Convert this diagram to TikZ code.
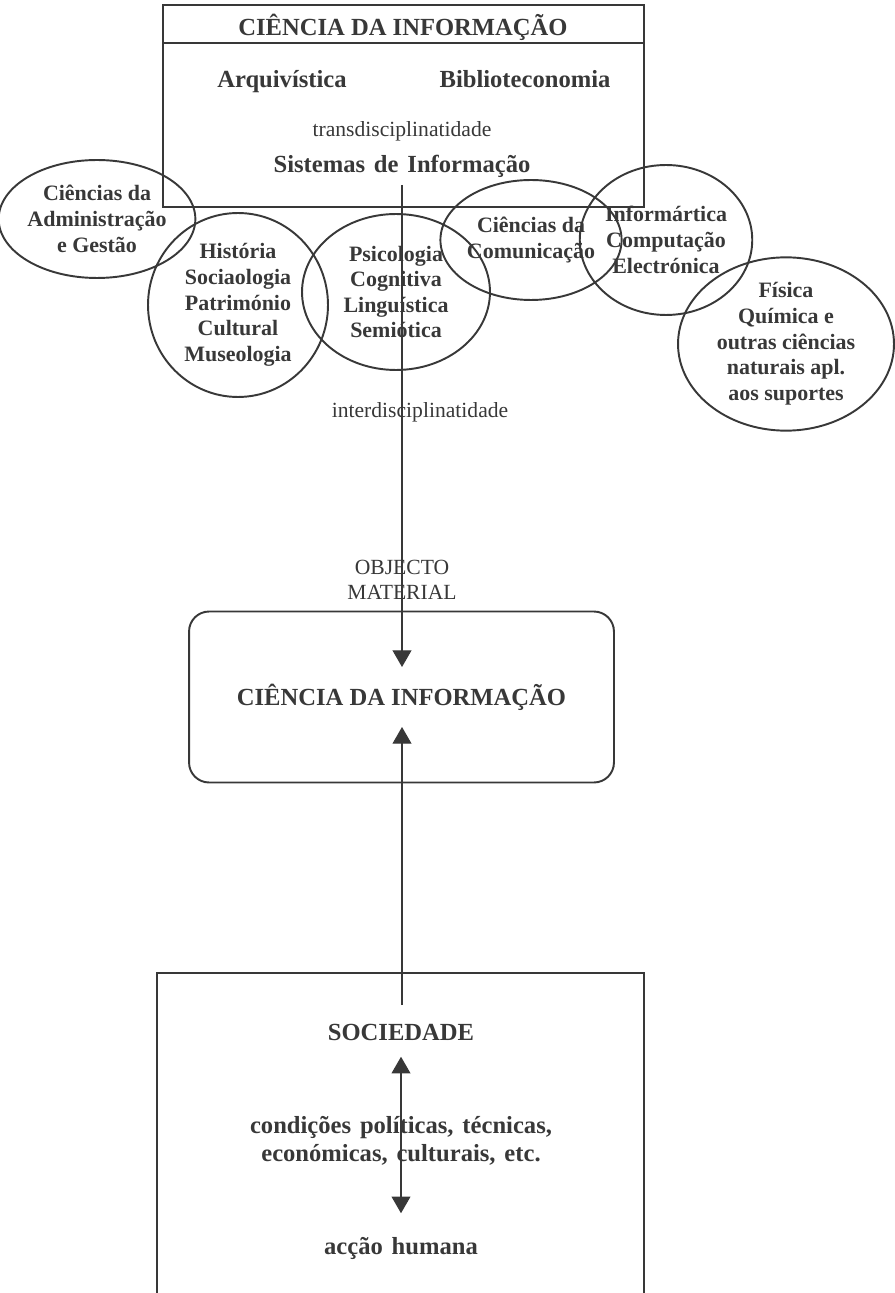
\documentclass[tikz,border=0pt]{standalone}
\usepackage{fontspec}
\setmainfont{Liberation Serif}
\usetikzlibrary{arrows.meta, shapes.geometric, positioning}
\definecolor{ink}{HTML}{383838}
\newcommand\widesp{\spaceskip=0.36em\relax}

\begin{document}
\begin{tikzpicture}[x=0.02cm, y=-0.02cm, line width=1.1pt, color=ink,
    disc/.style={draw, ellipse, inner sep=0pt, align=center,
      font=\bfseries\fontsize{12.5}{14.6}\selectfont},
    headtxt/.style={font=\bfseries\fontsize{14}{16}\selectfont},
    subtxt/.style={font=\bfseries\fontsize{14}{16}\selectfont\widesp, align=center},
    plaintxt/.style={font=\fontsize{12.3}{14}\selectfont, align=center},
    arr/.style={line width=0.6pt, -{Triangle[length=9.5pt, width=10.8pt]}},
    dblarr/.style={line width=0.6pt, {Triangle[length=9.5pt, width=10.8pt]}-{Triangle[length=9.5pt, width=10.8pt]}}]
  \useasboundingbox (0,0) rectangle (894,1293);

  % Top box
  \draw (163,5) rectangle (644,207);
  \draw (163,43) -- (644,43);
  \node[headtxt, anchor=base] (ci1) at (403,36) {CIÊNCIA DA INFORMAÇÃO};
  \node[headtxt, anchor=base] (arq) at (282,88) {Arquivística};
  \node[headtxt, anchor=base] (bib) at (525,88) {Biblioteconomia};
  \node[plaintxt, anchor=base] (trans) at (402,137) {transdisciplinatidade};
  \node[subtxt, anchor=base] (sis) at (402,173) {Sistemas de Informação};

  % Disciplines
  \node[disc, minimum width=3.6cm, minimum height=2.36cm] (adm) at (97,219)
    {Ciências da\\Administração\\e Gestão};
  \node[disc, minimum width=3.6cm, minimum height=3.68cm] (hist) at (238,305)
    {História\\Sociaologia\\Património\\Cultural\\Museologia};
  \node[disc, minimum width=3.76cm, minimum height=3.12cm] (psi) at (396,292)
    {Psicologia\\Cognitiva\\Linguística\\Semiótica};
  \node[disc, minimum width=2.92cm, minimum height=2.4cm] (com) at (531,240)
    {Ciências da\\Comunicação};
  \node[disc, minimum width=3.16cm, minimum height=3.0cm] (inf) at (666,240)
    {Informártica\\Computação\\Electrónica};
  \node[disc, minimum width=4.32cm, minimum height=3.44cm] (fis) at (786,344)
    {Física\\Química e\\outras ciências\\naturais apl.\\aos suportes};
  \node[plaintxt] (inter) at (420,412) {interdisciplinatidade};

  % Middle box
  \node[plaintxt] (obj) at (402,580) {OBJECTO\\MATERIAL};
  \node[draw, rounded corners=0.4cm, minimum width=8.5cm, minimum height=3.42cm,
    headtxt] (mid) at (401.5,697) {CIÊNCIA DA INFORMAÇÃO};
  \coordinate (tipdown) at (402,667);
  \coordinate (tipup) at (402,727);

  % Bottom box
  \draw (157,1297) -- (157,973) -- (644,973) -- (644,1297);
  \node[subtxt] (soc) at (401,1032) {SOCIEDADE};
  \node[subtxt] (cond) at (401,1141) {condições políticas, técnicas,\\económicas, culturais, etc.};
  \node[subtxt] (acc) at (401,1248) {acção humana};
  \coordinate (socTop) at (402,1005);

  % Connectors
  \draw[arr] (sis.south) -- (sis.south |- tipdown);
  \draw[arr] (socTop) -- (tipup);
  \draw[dblarr] ([yshift=-5.5pt]soc.south) -- ([yshift=9.6pt]acc.north);
\end{tikzpicture}
\end{document}
